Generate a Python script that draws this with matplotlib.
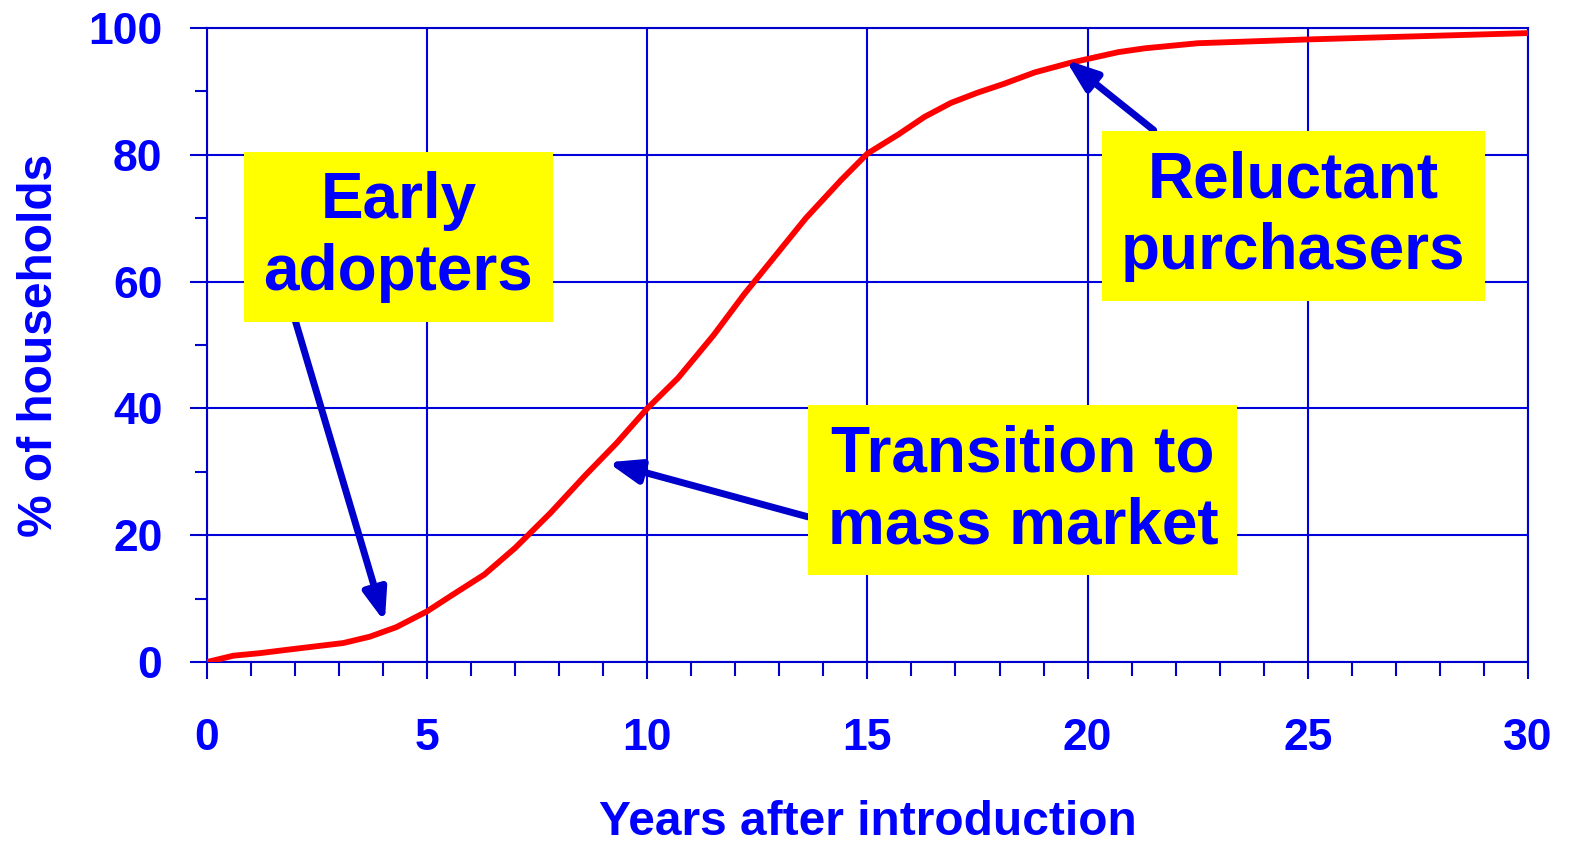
import matplotlib
matplotlib.use("Agg")
import matplotlib.pyplot as plt
from matplotlib.ticker import MultipleLocator

plt.rcParams['font.family'] = ['Liberation Sans', 'DejaVu Sans']
plt.rcParams['font.weight'] = 'bold'

# adoption curve
years = [0, 0.6, 1.2, 1.9, 2.5, 3.1, 3.7, 4.3, 5.0, 5.6, 6.3, 7.0, 7.8, 8.6,
         9.3, 10.0, 10.7, 11.5, 12.2, 12.9, 13.6, 14.4, 15.0, 15.7, 16.3,
         16.9, 17.5, 18.1, 18.8, 19.6, 20.7, 21.3, 22.5, 25.0, 30.0]
pct = [0, 1.0, 1.4, 2.0, 2.5, 3.0, 4.0, 5.5, 8.0, 10.7, 13.8, 18.0, 23.5, 29.5,
       34.5, 40.0, 44.8, 51.5, 58.0, 64.0, 70.0, 76.0, 80.2, 83.2, 86.0,
       88.2, 89.8, 91.2, 93.0, 94.5, 96.2, 96.8, 97.6, 98.2, 99.2]

labels = ["Early\nadopters", "Transition to\nmass market", "Reluctant\npurchasers"]
label_pos = [(4.35, 67.0), (18.53, 27.1), (24.67, 70.3)]
arrow_tip = [(4.04, 6.3), (9.1, 31.5), (19.5, 95.0)]
arrow_tail = [(2.0, 54.0), (13.65, 22.9), (21.5, 83.9)]

blue = '#0000FF'
dark = '#0000CC'

fig = plt.figure(figsize=(15.7, 8.44), dpi=100)
ax = fig.add_axes([0.1318, 0.2156, 0.9732 - 0.1318, 0.9668 - 0.2156])

ax.plot(years, pct, color='#FF0000', lw=4.2, solid_joinstyle='miter', zorder=3)

ax.set_xlim(0, 30)
ax.set_ylim(0, 100)
ax.xaxis.set_major_locator(MultipleLocator(5))
ax.xaxis.set_minor_locator(MultipleLocator(1))
ax.yaxis.set_major_locator(MultipleLocator(20))
ax.yaxis.set_minor_locator(MultipleLocator(10))
ax.grid(True, which='major', color='#0000DD', lw=1.5)
ax.set_axisbelow(True)
for s in ax.spines.values():
    s.set_color(dark)
    s.set_linewidth(1.5)

ax.tick_params(axis='both', which='both', colors=dark, width=1.5, direction='out')
ax.tick_params(axis='x', which='major', length=12, pad=28, labelsize=32, labelcolor=blue)
ax.tick_params(axis='x', which='minor', length=10)
ax.tick_params(axis='y', which='major', length=12, pad=20, labelsize=32, labelcolor=blue)
ax.tick_params(axis='y', which='minor', length=9)
for t in ax.get_xticklabels() + ax.get_yticklabels():
    t.set_fontweight('bold')

ax.set_xlabel("Years after introduction", fontsize=34.5, fontweight='bold', color=blue)
ax.set_ylabel("% of households", fontsize=34.5, fontweight='bold', color=blue)
ax.xaxis.set_label_coords(0.5, -0.218)
ax.yaxis.set_label_coords(-0.11, 0.5)

for lab, pos, tip, tail in zip(labels, label_pos, arrow_tip, arrow_tail):
    ax.annotate("", xy=tip, xytext=tail,
                arrowprops=dict(arrowstyle='-|>,head_length=1.9,head_width=0.7',
                                color=dark, lw=5, shrinkA=0, shrinkB=0),
                zorder=4)
    ax.text(pos[0], pos[1], lab, fontsize=46, fontweight='bold', color=blue,
            ha='center', va='center', linespacing=1.25, zorder=5,
            bbox=dict(boxstyle='square,pad=0.3', fc='#FFFF00', ec='none'))

fig.savefig("out.png", dpi=100)
